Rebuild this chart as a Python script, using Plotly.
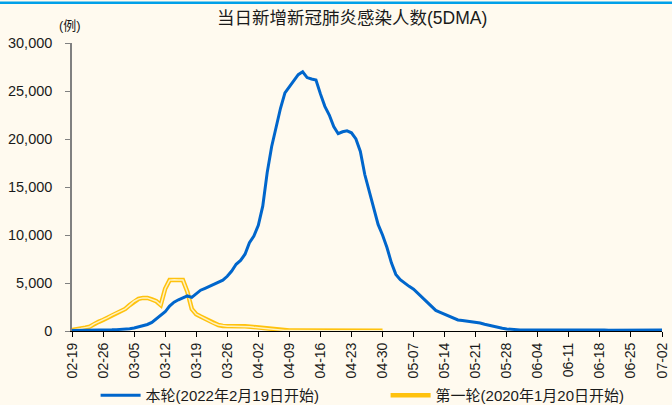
import plotly.graph_objects as go

# ---- data ----
tick_labels = ["02-19", "02-26", "03-05", "03-12", "03-19", "03-26", "04-02", "04-09",
               "04-16", "04-23", "04-30", "05-07", "05-14", "05-21", "05-28", "06-04",
               "06-11", "06-18", "06-25", "07-02"]

# current round (from 2022-02-19), daily 5DMA, day 0 .. 133
round_now = [60, 60, 70, 70, 80, 80, 90, 100, 110, 120,
             140, 160, 190, 240, 320, 420, 530, 680, 900, 1300,
             1700, 2000, 2600, 3000, 3250, 3450, 3650, 3500, 3900, 4250,
             4450, 4650, 4820, 5050, 5300, 5700, 6250, 6950, 7350, 8000,
             9200, 9900, 11000, 13000, 16500, 19200, 21300, 23200, 24800, 25400,
             26000, 26700, 27000, 26400, 26250, 26150, 24700, 23400, 22500, 21300,
             20550, 20750, 20850, 20650, 20000, 18700, 16300, 14600, 12800, 11100,
             10000, 8700, 7100, 5900, 5350, 4950, 4650, 4350, 3900, 3400,
             2950, 2500, 2150, 1950, 1750, 1550, 1330, 1150, 1100, 1050,
             1000, 930, 830, 700, 580, 480, 380, 290, 220, 170,
             130, 110, 100, 100, 100, 110, 120, 130, 140, 150,
             160, 170, 170, 160, 150, 140, 130, 120, 110, 100,
             100, 90, 90, 90, 80, 80, 80, 80, 90, 90,
             100, 100, 110, 110]

# first round (from 2020-01-20), daily 5DMA, day 0 .. 70
round_first = [100, 150, 250, 350, 450, 750, 950, 1150, 1400, 1650,
               1850, 2100, 2300, 2700, 3100, 3350, 3450, 3450, 3300, 3100,
               2700, 4400, 5300, 5350, 5300, 5300, 4100, 2300, 1750, 1500,
               1300, 1050, 800, 620, 530, 500, 500, 500, 500, 500,
               450, 380, 330, 280, 200, 150, 100, 80, 60, 50,
               40, 40, 30, 30, 30, 30, 30, 30, 30, 30,
               30, 30, 30, 30, 30, 30, 30, 30, 30, 30,
               30]

name_now = "本轮(2022年2月19日开始)"
name_first = "第一轮(2020年1月20日开始)"
title_text = "当日新增新冠肺炎感染人数(5DMA)"
unit_text = "(例)"

days_now = list(range(len(round_now)))
days_first = list(range(len(round_first)))
tick_vals = [i * 7 for i in range(len(tick_labels))]

FONT = "Liberation Sans, Arial, Noto Sans CJK SC, sans-serif"
BG = "#FFFAEF"

fig = go.Figure()
fig.add_trace(go.Scatter(x=days_first, y=round_first, mode="lines", name=name_first,
                         line=dict(color="#FFC20E", width=4.5), legendrank=2))
fig.add_trace(go.Scatter(x=days_first, y=round_first, mode="lines", showlegend=False,
                         line=dict(color="#FFF2C2", width=1.5), hoverinfo="skip"))
fig.add_trace(go.Scatter(x=days_now, y=round_now, mode="lines", name=name_now,
                         line=dict(color="#0066CC", width=3), legendrank=1))

fig.update_layout(
    width=672, height=405,
    margin=dict(l=72, r=10, t=43, b=74, autoexpand=False),
    paper_bgcolor=BG, plot_bgcolor=BG,
    font=dict(family=FONT, size=14, color="#1a1a1a"),
    title=dict(text=title_text, x=0.524, xref="container", xanchor="center",
               y=1 - 18 / 405, yref="container", yanchor="middle",
               font=dict(size=17.5, color="#1a1a1a")),
    showlegend=True,
    legend=dict(orientation="h", x=0.04, xanchor="left", y=(331 - 395.5) / 288,
                yanchor="middle", font=dict(size=15), entrywidth=235, itemwidth=40,
                bgcolor="rgba(0,0,0,0)", traceorder="normal"),
    xaxis=dict(range=[0, 133], tickmode="array", tickvals=tick_vals, ticktext=tick_labels,
               tickangle=-90, showgrid=False, zeroline=False, showline=True,
               linecolor="#000000", linewidth=1, ticks="outside", ticklen=5,
               tickcolor="#000000", tickwidth=1, tickfont=dict(size=14)),
    yaxis=dict(range=[0, 30000], tickmode="array",
               tickvals=[0, 5000, 10000, 15000, 20000, 25000, 30000],
               tickformat=",", showgrid=False, zeroline=False, showline=True,
               linecolor="#808080", linewidth=1.5, ticks="outside", ticklen=5,
               tickcolor="#808080", tickwidth=1, tickfont=dict(size=14.5),
               ticklabelstandoff=10),
    shapes=[dict(type="rect", xref="paper", yref="paper",
                 x0=-72 / 590, x1=600 / 590, y0=(331 - 4) / 288, y1=(331 - 1.5) / 288,
                 fillcolor="#00A0E9", line=dict(width=0), layer="above")],
    annotations=[dict(text=unit_text, xref="paper", yref="paper",
                      x=(70 - 72) / 590, y=(331 - 25) / 288, xanchor="center",
                      yanchor="middle", showarrow=False, font=dict(size=13))],
)

fig.write_html("out.html", config={"displayModeBar": False},
               post_script="document.body.style.margin='0';document.body.style.padding='0';")
